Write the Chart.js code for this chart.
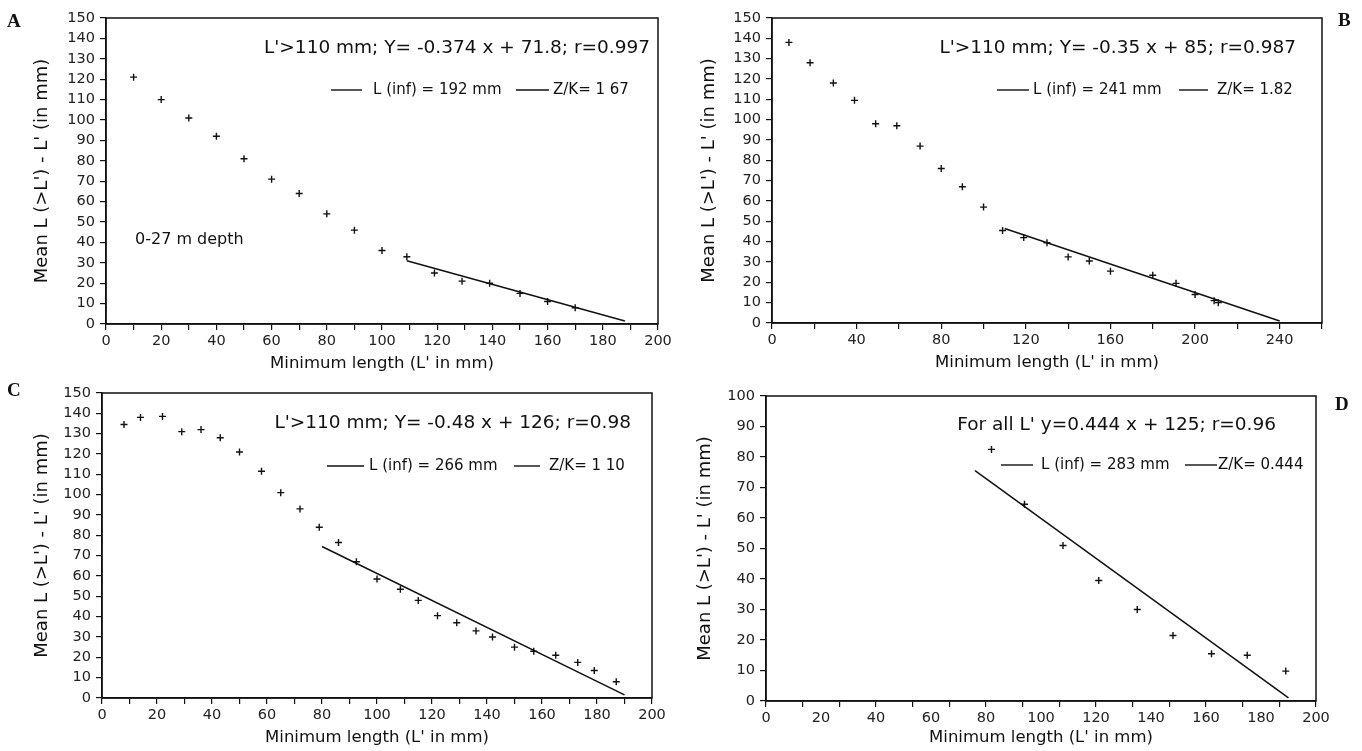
<!DOCTYPE html>
<html>
<head>
<meta charset="utf-8">
<script src="https://cdn.jsdelivr.net/npm/chart.js@4.4.0/dist/chart.umd.min.js"></script>
<style>
  body { margin: 0; background: #fff; }
  #page { position: relative; width: 1362px; height: 751px; overflow: hidden; background: #fff; }
  #page canvas { position: absolute; }
  .tag { position: absolute; font: bold 19px 'Liberation Serif', serif; color: #111; line-height: 1; }
</style>
</head>
<body>
<div id="page">
  <canvas id="chart_a" width="681" height="375" style="left:0px;top:0px"></canvas>
  <canvas id="chart_b" width="681" height="375" style="left:681px;top:0px"></canvas>
  <canvas id="chart_c" width="681" height="376" style="left:0px;top:375px"></canvas>
  <canvas id="chart_d" width="681" height="376" style="left:681px;top:375px"></canvas>
  <div class="tag" style="left:7px;top:11px">A</div>
  <div class="tag" style="left:1338px;top:10px">B</div>
  <div class="tag" style="left:7px;top:380px">C</div>
  <div class="tag" style="left:1335px;top:394px">D</div>
</div>
<script>
// panel A, 0-27 m depth
const a_x = [10, 20, 30, 40, 50, 60, 70, 80, 90, 100, 109, 119, 129, 139, 150, 160, 170];
const a_y = [121, 110, 101, 92, 81, 71, 64, 54, 46, 36, 33, 25, 21, 20, 15, 11, 8];
const a_fit_x = [109, 188];
const a_fit_y = [31, 1.5];

// panel B
const b_x = [8, 18, 29, 39, 49, 59, 70, 80, 90, 100, 109, 119, 130, 140, 150, 160, 180, 191, 200, 209, 211];
const b_y = [138, 128, 118, 109.5, 98, 97, 87, 76, 67, 57, 45.5, 42, 39.5, 32.5, 30.5, 25.5, 23.5, 19.5, 14, 11, 10];
const b_fit_x = [110, 240];
const b_fit_y = [46.5, 1];

// panel C
const c_x = [8, 14, 22, 29, 36, 43, 50, 58, 65, 72, 79, 86, 92.5, 100, 108.5, 115, 122, 129, 136, 142, 150, 157, 165, 173, 179, 187];
const c_y = [134.5, 138, 138.5, 131, 132, 128, 121, 111.5, 101, 93, 84, 76.5, 67, 58.5, 53.5, 48, 40.5, 37, 33, 30, 25, 23, 21, 17.5, 13.5, 8];
const c_fit_x = [80, 190];
const c_fit_y = [74.5, 1.5];

// panel D
const d_x = [82, 94, 108, 121, 135, 148, 162, 175, 189];
const d_y = [82.5, 64.5, 51, 39.5, 30, 21.5, 15.5, 15, 9.8];
const d_fit_x = [76, 190];
const d_fit_y = [75.5, 1];

// ticks: marks are the little dashes, labels are the numbers
const x_labels_200 = [0, 20, 40, 60, 80, 100, 120, 140, 160, 180, 200];
const x_marks_10 = [0, 10, 20, 30, 40, 50, 60, 70, 80, 90, 100, 110, 120, 130, 140, 150, 160, 170, 180, 190, 200];
const b_x_labels = [0, 40, 80, 120, 160, 200, 240];
const b_x_marks = [0, 20, 40, 60, 80, 100, 120, 140, 160, 180, 200, 220, 240, 260];
const d_x_marks = [0, 13.33, 26.67, 40, 53.33, 66.67, 80, 93.33, 106.67, 120, 133.33, 146.67, 160, 173.33, 186.67, 200];
const y_ticks_150 = [0, 10, 20, 30, 40, 50, 60, 70, 80, 90, 100, 110, 120, 130, 140, 150];
const y_ticks_100 = [0, 10, 20, 30, 40, 50, 60, 70, 80, 90, 100];

const x_title = "Minimum length (L' in mm)";
const y_title = "Mean L (>L') - L' (in mm)";

const ink = '#111';
const font_name = "'DejaVu Sans', sans-serif";

const to_points = (xs, ys) => xs.map((x, i) => ({x: x, y: ys[i]}));
const has = (list, v) => list.some(t => Math.abs(t - v) < 0.01);

// frame round the plot and the free texts
const notes_plugin = {
  id: 'notes',
  afterDraw(chart, args, opts) {
    const ctx = chart.ctx;
    const area = chart.chartArea;
    ctx.save();
    ctx.strokeStyle = ink;
    ctx.lineWidth = 1.5;
    ctx.strokeRect(area.left, area.top, area.right - area.left, area.bottom - area.top);
    ctx.fillStyle = ink;
    ctx.textBaseline = 'middle';
    (opts.texts || []).forEach(t => {
      ctx.font = t.size + 'px ' + font_name;
      ctx.textAlign = t.align || 'left';
      ctx.fillText(t.text, t.x, t.y);
    });
    ctx.lineWidth = 1.4;
    (opts.dashes || []).forEach(d => {
      ctx.beginPath();
      ctx.moveTo(d[0], d[2]);
      ctx.lineTo(d[1], d[2]);
      ctx.stroke();
    });
    ctx.restore();
  }
};

function make_axis(opt) {
  const all = [...new Set([...opt.marks, ...opt.labels])].sort((p, q) => p - q);
  return {
    type: 'linear',
    position: opt.position,
    min: opt.min,
    max: opt.max,
    afterBuildTicks: (scale) => { scale.ticks = all.map(v => ({value: v})); },
    afterFit: (scale) => {
      if (opt.position === 'left') scale.width = opt.size;
      else scale.height = opt.size;
    },
    ticks: {
      autoSkip: false,
      maxRotation: 0,
      padding: opt.position === 'left' ? 5 : 3,
      color: '#222',
      font: {family: font_name, size: 14.5},
      callback: (v) => has(opt.labels, v) ? String(Math.round(v)) : ''
    },
    grid: {
      drawOnChartArea: false,
      drawTicks: true,
      tickLength: 6,
      lineWidth: 1.2,
      color: (c) => (c.tick && has(opt.marks, c.tick.value)) ? ink : 'rgba(0,0,0,0)'
    },
    border: {display: true, color: ink, width: 1.5},
    title: {
      display: true,
      text: opt.title,
      color: ink,
      font: {family: font_name, size: opt.position === 'left' ? 18 : 16.5},
      padding: opt.position === 'left' ? {top: opt.title_pad} : {top: 0, bottom: opt.title_pad}
    }
  };
}

function make_chart(id, p) {
  return new Chart(document.getElementById(id), {
    type: 'scatter',
    data: {
      datasets: [{
        label: 'points',
        data: to_points(p.xs, p.ys),
        pointStyle: 'cross',
        pointRadius: 3.5,
        borderColor: ink,
        backgroundColor: ink,
        borderWidth: 1.4,
        showLine: false
      }, {
        label: 'fit',
        data: to_points(p.fit_x, p.fit_y),
        showLine: true,
        pointRadius: 0,
        borderColor: ink,
        borderWidth: 1.5
      }]
    },
    options: {
      responsive: false,
      animation: false,
      layout: {padding: {left: 0, bottom: 0, top: p.pad_top, right: p.pad_right}},
      plugins: {
        legend: {display: false},
        tooltip: {enabled: false},
        notes: {texts: p.texts, dashes: p.dashes}
      },
      scales: {
        x: make_axis({position: 'bottom', min: 0, max: p.x_max, marks: p.x_marks, labels: p.x_labels,
                      size: p.x_size, title: x_title, title_pad: p.x_title_pad}),
        y: make_axis({position: 'left', min: 0, max: p.y_max, marks: p.y_ticks, labels: p.y_ticks,
                      size: p.y_size, title: y_title, title_pad: p.y_title_pad})
      }
    },
    plugins: [notes_plugin]
  });
}

make_chart('chart_a', {
  xs: a_x, ys: a_y, fit_x: a_fit_x, fit_y: a_fit_y,
  x_max: 200, x_marks: x_marks_10, x_labels: x_labels_200,
  y_max: 150, y_ticks: y_ticks_150,
  pad_top: 18, pad_right: 23, y_size: 106, x_size: 51, y_title_pad: 32, x_title_pad: 1,
  texts: [
    {text: "L'>110 mm; Y= -0.374 x + 71.8; r=0.997", x: 650, y: 48, size: 18.5, align: 'right'},
    {text: 'L (inf) = 192 mm', x: 373, y: 90, size: 15},
    {text: 'Z/K= 1 67', x: 553, y: 90, size: 15},
    {text: '0-27 m depth', x: 135, y: 240, size: 16}
  ],
  dashes: [[331, 362, 90], [516, 549, 90]]
});

make_chart('chart_b', {
  xs: b_x, ys: b_y, fit_x: b_fit_x, fit_y: b_fit_y,
  x_max: 260, x_marks: b_x_marks, x_labels: b_x_labels,
  y_max: 150, y_ticks: y_ticks_150,
  pad_top: 18, pad_right: 40, y_size: 91, x_size: 52, y_title_pad: 18, x_title_pad: 2,
  texts: [
    {text: "L'>110 mm; Y= -0.35 x + 85; r=0.987", x: 615, y: 48, size: 18.5, align: 'right'},
    {text: 'L (inf) = 241 mm', x: 352, y: 90, size: 15},
    {text: 'Z/K= 1.82', x: 536, y: 90, size: 15}
  ],
  dashes: [[316, 348, 90], [498, 527, 90]]
});

make_chart('chart_c', {
  xs: c_x, ys: c_y, fit_x: c_fit_x, fit_y: c_fit_y,
  x_max: 200, x_marks: x_marks_10, x_labels: x_labels_200,
  y_max: 150, y_ticks: y_ticks_150,
  pad_top: 18, pad_right: 29, y_size: 102, x_size: 53, y_title_pad: 32, x_title_pad: 3,
  texts: [
    {text: "L'>110 mm; Y= -0.48 x + 126; r=0.98", x: 631, y: 48, size: 18.5, align: 'right'},
    {text: 'L (inf) = 266 mm', x: 369, y: 91, size: 15},
    {text: 'Z/K= 1 10', x: 549, y: 91, size: 15}
  ],
  dashes: [[327, 364, 91], [514, 540, 91]]
});

make_chart('chart_d', {
  xs: d_x, ys: d_y, fit_x: d_fit_x, fit_y: d_fit_y,
  x_max: 200, x_marks: d_x_marks, x_labels: x_labels_200,
  y_max: 100, y_ticks: y_ticks_100,
  pad_top: 21, pad_right: 46, y_size: 85, x_size: 50, y_title_pad: 14, x_title_pad: 3,
  texts: [
    {text: "For all L' y=0.444 x + 125; r=0.96", x: 595, y: 50, size: 18.5, align: 'right'},
    {text: 'L (inf) = 283 mm', x: 360, y: 90, size: 15},
    {text: 'Z/K= 0.444', x: 537, y: 90, size: 15}
  ],
  dashes: [[320, 352, 90], [504, 536, 90]]
});
</script>
</body>
</html>
